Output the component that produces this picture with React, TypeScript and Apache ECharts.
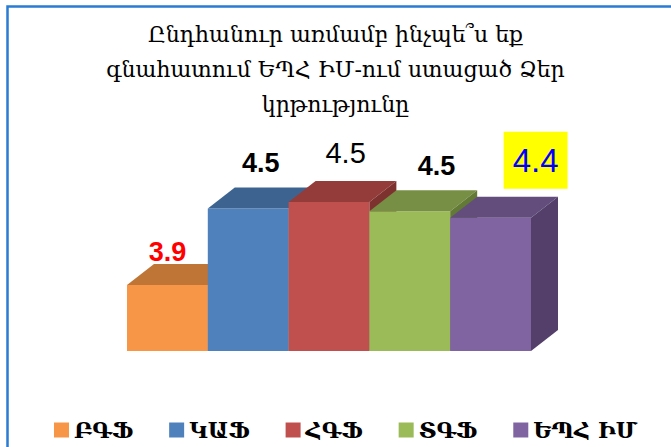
import React, { useEffect, useRef } from "react";
import * as echarts from "echarts";

const categories = ["ԲԳՖ", "ԿԱՖ", "ՀԳՖ", "ՏԳՖ", "ԵՊՀ ԻՄ"];
const values = [3.9, 4.48, 4.53, 4.46, 4.41];
const titleLines = [
  "Ընդհանուր առմամբ ինչպե՞ս եք",
  "գնահատում ԵՊՀ ԻՄ-ում ստացած Ձեր",
  "կրթությունը",
];
const Y_MIN = 3.4;
const Y_MAX = 5.0;

const faceColors = [
  { front: "#F79646", top: "#BE7535", side: "#A4622B" },
  { front: "#4F81BD", top: "#3D6491", side: "#34567E" },
  { front: "#C0504D", top: "#943C3A", side: "#7E3230" },
  { front: "#9BBB59", top: "#778F44", side: "#627A35" },
  { front: "#8064A2", top: "#624D7C", side: "#533F69" },
];

const labelStyles: any[] = [
  { color: "#FF0000", weight: "bold", size: 27, dx: 0, dy: -33 },
  { color: "#000000", weight: "bold", size: 27, dx: 12.6, dy: -46 },
  { color: "#000000", weight: "normal", size: 29, dx: 16.6, dy: -48.5 },
  { color: "#000000", weight: "bold", size: 27, dx: 26.6, dy: -45.5 },
  { color: "#0000FF", weight: "normal", size: 33, dx: 45, dy: -57.5, bg: "#FFFF00", padding: [12, 9] },
];

const DEPTH_X = 27;
const DEPTH_Y = 21;

export default function App() {
  const ref = useRef<HTMLDivElement>(null);
  useEffect(() => {
    if (!ref.current) return;
    const chart = echarts.init(ref.current, null, { renderer: "svg" });
    const series = categories.map((name, i) => ({
      type: "custom",
      name,
      z: 2 + i,
      data: [[i, values[i]]],
      encode: { x: 0, y: 1 },
      itemStyle: { color: faceColors[i].front },
      renderItem: (params: any, api: any) => {
        const xi = api.value(0);
        const v = api.value(1);
        const topPt = api.coord([xi, v]);
        const basePt = api.coord([xi, Y_MIN]);
        const bw = api.size([1, 0])[0];
        const l = topPt[0] - bw / 2;
        const r = topPt[0] + bw / 2;
        const t = topPt[1];
        const b = basePt[1];
        const c = faceColors[i];
        const ls = labelStyles[i];
        const textStyle: any = {
          text: Number(v).toFixed(1),
          fill: ls.color,
          fontSize: ls.size,
          fontWeight: ls.weight,
          fontFamily: "Liberation Sans, Arial, sans-serif",
          align: "center",
          verticalAlign: "middle",
        };
        if (ls.bg) {
          textStyle.backgroundColor = ls.bg;
          textStyle.padding = ls.padding;
        }
        return {
          type: "group",
          children: [
            {
              type: "polygon",
              shape: { points: [[l, t], [r, t], [r, b], [l, b]] },
              style: { fill: c.front },
            },
            {
              type: "polygon",
              shape: {
                points: [[l, t], [r, t], [r + DEPTH_X, t - DEPTH_Y], [l + DEPTH_X, t - DEPTH_Y]],
              },
              style: { fill: c.top },
            },
            {
              type: "polygon",
              shape: {
                points: [[r, t], [r + DEPTH_X, t - DEPTH_Y], [r + DEPTH_X, b - DEPTH_Y], [r, b]],
              },
              style: { fill: c.side },
            },
            {
              type: "text",
              x: topPt[0] + ls.dx,
              y: t + ls.dy,
              style: textStyle,
            },
          ],
        };
      },
    }));

    chart.setOption({
      animation: false,
      backgroundColor: "#FFFFFF",
      title: {
        text: titleLines.join("\n"),
        left: "center",
        top: 17,
        padding: 0,
        textStyle: {
          fontFamily: "DejaVu Serif, serif",
          fontSize: 22,
          fontWeight: "normal",
          color: "#000000",
          lineHeight: 35,
        },
      },
      legend: {
        data: categories,
        left: 49,
        top: 414,
        icon: "rect",
        itemWidth: 15,
        itemHeight: 15,
        itemGap: 36,
        textStyle: {
          fontFamily: "DejaVu Serif, serif",
          fontSize: 22,
          fontWeight: "bold",
          color: "#000000",
        },
      },
      grid: { left: 127, right: 140, top: 140, bottom: 96 },
      xAxis: {
        type: "category",
        data: categories,
        show: false,
      },
      yAxis: {
        type: "value",
        min: Y_MIN,
        max: Y_MAX,
        show: false,
      },
      graphic: [
        {
          type: "rect",
          z: 0,
          shape: { x: 7.5, y: 6.5, width: 720, height: 520 },
          style: { fill: "none", stroke: "#2A7BD3", lineWidth: 2.5 },
        },
      ],
      series,
    });
    return () => chart.dispose();
  }, []);
  return (
    <div
      ref={ref}
      style={{ position: "fixed", left: 0, top: 0, width: 671, height: 447 }}
    />
  );
}
